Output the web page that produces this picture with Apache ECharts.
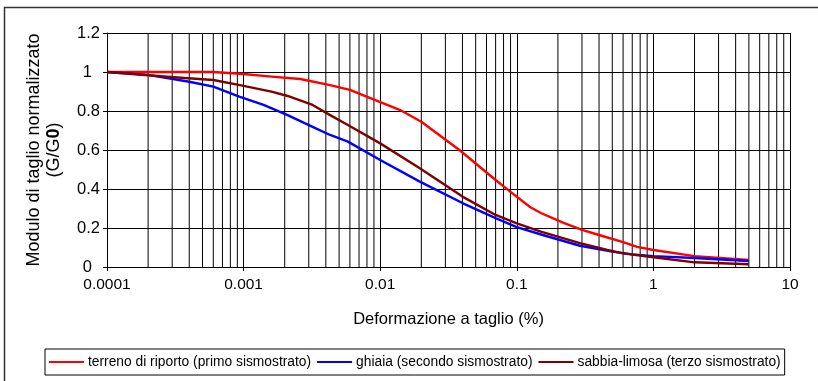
<!DOCTYPE html>
<html>
<head>
<meta charset="utf-8">
<script src="https://cdn.jsdelivr.net/npm/echarts@6/dist/echarts.min.js"></script>
<style>
  html, body { margin: 0; padding: 0; background: #fff; }
  #chart { width: 818px; height: 381px; }
</style>
</head>
<body>
<div id="chart"></div>
<script>
// Shear strain (%) on a log scale
const xTickLabels = ['0.0001', '0.001', '0.01', '0.1', '1', '10'];
const yTicks = [0, 0.2, 0.4, 0.6, 0.8, 1, 1.2];

const seriesNames = [
  'terreno di riporto (primo sismostrato)',
  'ghiaia (secondo sismostrato)',
  'sabbia-limosa (terzo sismostrato)'
];

// Normalized shear modulus G/G0 curves: [strain %, G/G0]
const terrenoRiporto = [
  [0.0001, 1.0], [0.0002, 1.0], [0.0003, 1.0], [0.0006, 1.0], [0.001, 0.99],
  [0.0016, 0.976], [0.0026, 0.964], [0.0043, 0.933], [0.006, 0.908],
  [0.014, 0.805], [0.02, 0.745], [0.038, 0.6], [0.07, 0.446], [0.09, 0.385],
  [0.125, 0.308], [0.15, 0.277], [0.22, 0.226], [0.3, 0.19], [0.4, 0.164],
  [0.6, 0.128], [0.76, 0.103], [1.0, 0.087], [2.0, 0.056], [5.0, 0.036]
];
const ghiaia = [
  [0.0001, 1.0], [0.0002, 0.985], [0.0004, 0.95], [0.0006, 0.925],
  [0.00094, 0.873], [0.0014, 0.831], [0.0021, 0.779], [0.0032, 0.719],
  [0.0043, 0.677], [0.0058, 0.643], [0.01, 0.549], [0.0195, 0.438],
  [0.04, 0.328], [0.07, 0.251], [0.1, 0.205], [0.155, 0.164], [0.29, 0.109],
  [0.5, 0.079], [0.7, 0.065], [1.0, 0.056], [2.0, 0.046], [5.0, 0.031]
];
const sabbiaLimosa = [
  [0.0001, 1.0], [0.000275, 0.976], [0.0006, 0.959], [0.00094, 0.933],
  [0.0016, 0.899], [0.0021, 0.877], [0.0032, 0.831], [0.0043, 0.779],
  [0.0058, 0.728], [0.01, 0.634], [0.0195, 0.506], [0.04, 0.361],
  [0.07, 0.267], [0.1, 0.224], [0.15, 0.181], [0.29, 0.122], [0.46, 0.087],
  [0.6, 0.07], [1.0, 0.05], [2.0, 0.024], [5.0, 0.014]
];

const colors = ['#ff0000', '#0000ff', '#800000'];
const FONT = '"Liberation Sans", Arial, sans-serif';

// intermediate log grid positions (2..9 in each decade)
const minorGrid = [];
for (let d = -4; d < 1; d++) {
  for (let m = 2; m <= 9; m++) {
    minorGrid.push([m * Math.pow(10, d)]);
  }
}

const chart = echarts.init(document.getElementById('chart'), null, { renderer: 'canvas' });

const lineSeries = (name, data, color) => ({
  name: name,
  type: 'line',
  data: data,
  showSymbol: false,
  symbol: 'none',
  smooth: false,
  lineStyle: { color: color, width: 2.4, join: 'round' },
  itemStyle: { color: color },
  z: 5
});

const option = {
  animation: false,
  backgroundColor: '#ffffff',
  textStyle: { fontFamily: FONT, color: '#000' },
  grid: { left: 107, right: 28, top: 33, bottom: 114, containLabel: false },
  graphic: [{
    type: 'rect',
    shape: { x: 4.5, y: 7.5, width: 900, height: 500 },
    style: { fill: 'none', stroke: '#333', lineWidth: 1.5 },
    silent: true
  }],
  legend: {
    left: 45, top: 349,
    orient: 'horizontal',
    icon: 'rect',
    itemWidth: 35, itemHeight: 2,
    itemGap: 6,
    padding: [6, 4, 6, 4],
    borderColor: '#000', borderWidth: 1,
    textStyle: { fontFamily: FONT, fontSize: 13.8, color: '#000', padding: [0, 0, 0, -1] },
    data: seriesNames
  },
  xAxis: {
    type: 'log', logBase: 10, min: 0.0001, max: 10,
    name: 'Deformazione a taglio (%)',
    nameLocation: 'middle', nameGap: 44,
    nameTextStyle: { fontFamily: FONT, fontSize: 16.5, color: '#000' },
    axisLine: { show: true, lineStyle: { color: '#000', width: 1 } },
    axisTick: { show: true, inside: false, length: 4, lineStyle: { color: '#000' } },
    axisLabel: {
      fontFamily: FONT, fontSize: 15.5, color: '#000', margin: 10,
      formatter: function (v) {
        const i = Math.round(Math.log10(v)) + 4;
        return xTickLabels[i] !== undefined ? xTickLabels[i] : '';
      }
    },
    splitLine: { show: true, lineStyle: { color: '#000', width: 1 } }
  },
  yAxis: {
    type: 'value', min: 0, max: 1.2, interval: 0.2,
    name: 'Modulo di taglio normalizzato\n(G/G{b|0})',
    nameLocation: 'middle', nameGap: 43, nameRotate: 90,
    nameTextStyle: {
      fontFamily: FONT, fontSize: 18, color: '#000', lineHeight: 20,
      rich: { b: { fontFamily: FONT, fontSize: 18, fontWeight: 'bold', color: '#000' } }
    },
    axisLine: { show: true, lineStyle: { color: '#000', width: 1 } },
    axisTick: { show: true, inside: false, length: 4, lineStyle: { color: '#000' } },
    axisLabel: {
      fontFamily: FONT, fontSize: 16.5, color: '#000', margin: 7,
      formatter: function (v) {
        const r = Math.round(v * 10) / 10;
        if (Number.isInteger(r)) return '{i|' + r + '}';
        return String(r);
      },
      rich: { i: { fontFamily: FONT, fontSize: 16.5, color: '#000', padding: [0, 8, 0, 0] } }
    },
    splitLine: { show: true, lineStyle: { color: '#000', width: 1 } }
  },
  series: [
    {
      type: 'custom',
      name: 'griglia',
      silent: true,
      z: 1,
      data: minorGrid,
      encode: { x: 0 },
      renderItem: function (params, api) {
        const v = api.value(0);
        const p0 = api.coord([v, 0]);
        const p1 = api.coord([v, 1.2]);
        return {
          type: 'line',
          shape: { x1: p0[0], y1: p0[1], x2: p1[0], y2: p1[1] },
          style: { stroke: '#000', lineWidth: 1 }
        };
      }
    },
    lineSeries(seriesNames[0], terrenoRiporto, colors[0]),
    lineSeries(seriesNames[1], ghiaia, colors[1]),
    lineSeries(seriesNames[2], sabbiaLimosa, colors[2])
  ]
};

chart.setOption(option);
</script>
</body>
</html>
